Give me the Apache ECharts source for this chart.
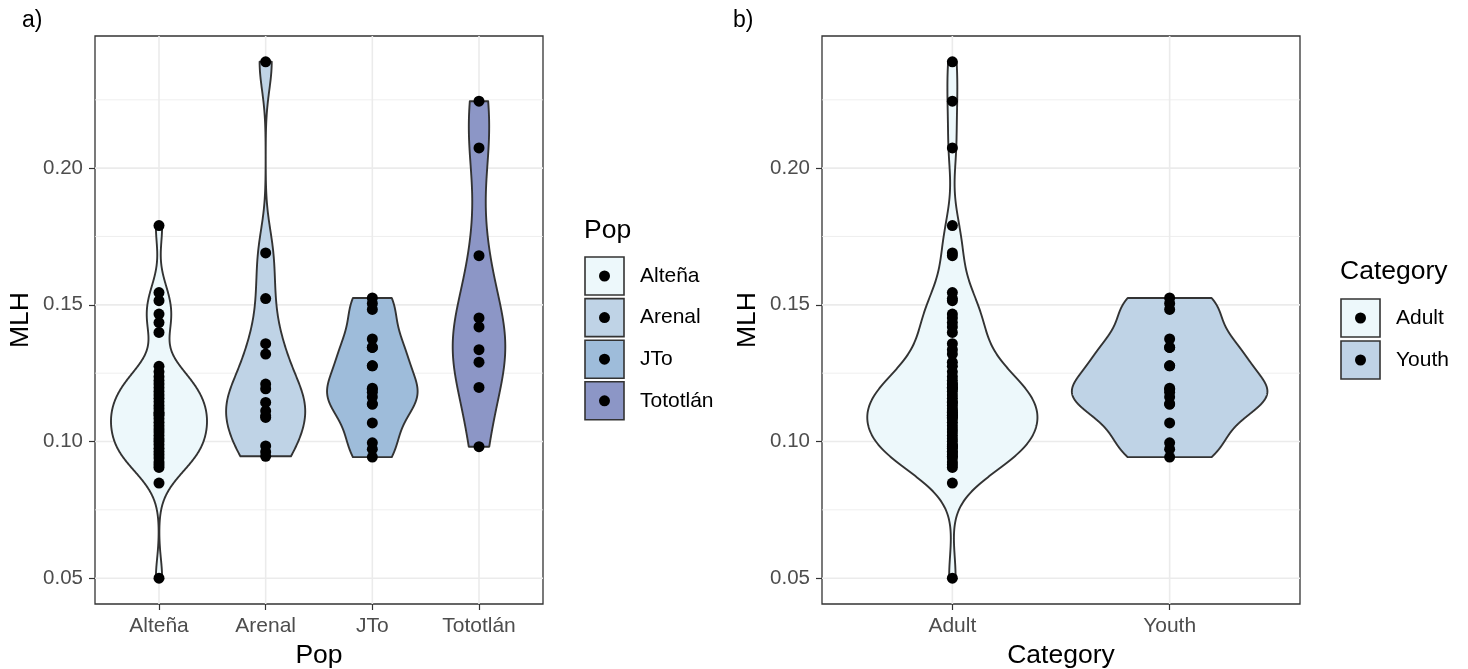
<!DOCTYPE html>
<html>
<head>
<meta charset="utf-8">
<script src="https://cdn.jsdelivr.net/npm/echarts@6/dist/echarts.min.js"></script>
<style>
html, body { margin: 0; padding: 0; background: #fff; }
#main { width: 1468px; height: 669px; }
</style>
</head>
<body>
<div id="main"></div>
<script>
// 各群体的 MLH 数值（从图上读取，重叠的点按密度估计）
var popNames = ['Alteña', 'Arenal', 'JTo', 'Tototlán'];
var altena = [0.179, 0.1545, 0.1515, 0.1466, 0.1435, 0.1399,
  0.1275, 0.1255, 0.1237, 0.1223, 0.121, 0.1197, 0.1183, 0.117, 0.1158, 0.1145,
  0.1132, 0.112, 0.1107, 0.1101, 0.1095, 0.1083, 0.107, 0.1058, 0.1046, 0.1035,
  0.1022, 0.101, 0.100, 0.0988, 0.0975, 0.0963, 0.0952, 0.094, 0.0925, 0.0915,
  0.0905, 0.0848, 0.05];
var arenal = [0.2389, 0.169, 0.1523, 0.1358, 0.132, 0.121, 0.1193, 0.1143, 0.1112, 0.1094,
  0.1088, 0.0984, 0.0962, 0.0946];
var jto = [0.1525, 0.1505, 0.1483, 0.1375, 0.1344, 0.1344, 0.1277, 0.1277, 0.1195, 0.119,
  0.118, 0.1163, 0.1137, 0.1137, 0.1068, 0.0995, 0.0972, 0.0943];
var tototlan = [0.2245, 0.2074, 0.168, 0.1452, 0.1419, 0.1336, 0.129, 0.1198, 0.0981];

// Category: Adult = Alteña + Arenal + Tototlán, Youth = JTo
var catNames = ['Adult', 'Youth'];

var yTicks = [0.05, 0.10, 0.15, 0.20];
var yMinor = [0.075, 0.125, 0.175, 0.225];

var popFill = ['#EDF8FB', '#BFD3E6', '#9EBCDA', '#8C96C6'];
var catFill = ['#EDF8FB', '#BFD3E6'];

var popGroups = [altena, arenal, jto, tototlan];
var catGroups = [altena.concat(arenal, tototlan), jto];

var FONT = '"Liberation Sans", Arial, sans-serif';

// y 轴范围：数据范围上下各扩 5%
var allVals = altena.concat(arenal, jto, tototlan);
var yLo = Math.min.apply(null, allVals), yHi = Math.max.apply(null, allVals);
var yPad = (yHi - yLo) * 0.05;
var yMin = yLo - yPad, yMax = yHi + yPad;

function quantile(sorted, p) {
  var h = (sorted.length - 1) * p, lo = Math.floor(h);
  var hi = Math.min(lo + 1, sorted.length - 1);
  return sorted[lo] + (h - lo) * (sorted[hi] - sorted[lo]);
}
// R 的 bw.nrd0
function bwNrd0(x) {
  var n = x.length, mean = 0, ss = 0;
  x.forEach(function (v) { mean += v; }); mean /= n;
  x.forEach(function (v) { ss += (v - mean) * (v - mean); });
  var sd = Math.sqrt(ss / (n - 1));
  var s = x.slice().sort(function (a, b) { return a - b; });
  var iqr = quantile(s, 0.75) - quantile(s, 0.25);
  var lo = Math.min(sd, iqr / 1.34);
  if (!lo) lo = sd || 1;
  return 0.9 * lo * Math.pow(n, -0.2);
}
function kde(x) {
  var bw = bwNrd0(x), n = 512;
  var lo = Math.min.apply(null, x), hi = Math.max.apply(null, x);
  var ys = [], ds = [];
  for (var i = 0; i < n; i++) {
    var y = lo + (hi - lo) * i / (n - 1), d = 0;
    for (var j = 0; j < x.length; j++) {
      var z = (y - x[j]) / bw;
      d += Math.exp(-0.5 * z * z);
    }
    ys.push(y);
    ds.push(d / (x.length * bw * Math.sqrt(2 * Math.PI)));
  }
  return { y: ys, d: ds };
}
// scale = "area": 全面板最大密度对应宽度 0.9
function violinProfiles(groups) {
  var profs = groups.map(kde);
  var maxD = 0;
  profs.forEach(function (p) { p.d.forEach(function (v) { if (v > maxD) maxD = v; }); });
  profs.forEach(function (p) { p.w = p.d.map(function (v) { return v / maxD * 0.45; }); });
  return profs;
}
var popProf = violinProfiles(popGroups);
var catProf = violinProfiles(catGroups);

function violinRender(profs, fills) {
  return function (params, api) {
    var g = api.value(0) - 1;
    var p = profs[g], x0 = g + 1;
    var right = [], left = [];
    for (var i = 0; i < p.y.length; i++) {
      right.push(api.coord([x0 + p.w[i], p.y[i]]));
      left.push(api.coord([x0 - p.w[i], p.y[i]]));
    }
    return {
      type: 'polygon',
      shape: { points: right.concat(left.reverse()) },
      style: { fill: fills[g], stroke: '#333333', lineWidth: 1.9, lineJoin: 'round' }
    };
  };
}
function hGridRender(params, api) {
  var cs = params.coordSys;
  var p = api.coord([api.value(0), api.value(1)]);
  return {
    type: 'line',
    shape: { x1: cs.x, y1: p[1], x2: cs.x + cs.width, y2: p[1] },
    style: { stroke: '#EBEBEB', lineWidth: api.value(2) ? 1.6 : 0.8 }
  };
}
function vGridRender(params, api) {
  var cs = params.coordSys;
  var p = api.coord([api.value(0), api.value(1)]);
  return {
    type: 'line',
    shape: { x1: p[0], y1: cs.y, x2: p[0], y2: cs.y + cs.height },
    style: { stroke: '#EBEBEB', lineWidth: 1.6 }
  };
}

function panelSeries(idx, names, groups, profs, fills) {
  var xMid = (names.length + 1) / 2, yMid = (yMin + yMax) / 2;
  var hData = yTicks.map(function (v) { return [xMid, v, 1]; })
    .concat(yMinor.map(function (v) { return [xMid, v, 0]; }));
  var vData = names.map(function (n, i) { return [i + 1, yMid]; });
  var pts = [];
  groups.forEach(function (vals, g) {
    vals.forEach(function (v) { pts.push([g + 1, v]); });
  });
  return [
    { type: 'custom', xAxisIndex: idx, yAxisIndex: idx, z: 1, silent: true,
      renderItem: hGridRender, data: hData },
    { type: 'custom', xAxisIndex: idx, yAxisIndex: idx, z: 1, silent: true,
      renderItem: vGridRender, data: vData },
    { type: 'custom', xAxisIndex: idx, yAxisIndex: idx, z: 2, silent: true,
      renderItem: violinRender(profs, fills),
      data: names.map(function (n, i) { return [i + 1, yMid]; }) },
    { type: 'scatter', xAxisIndex: idx, yAxisIndex: idx, z: 3, silent: true,
      symbolSize: 11, itemStyle: { color: '#000000', opacity: 1 }, data: pts }
  ];
}

function xAxisFor(idx, names, title) {
  var ticks = names.map(function (n, i) { return i + 1; });
  return {
    gridIndex: idx, type: 'value', min: 0.4, max: names.length + 0.6,
    axisLine: { show: false, onZero: false },
    splitLine: { show: false },
    axisTick: { show: true, customValues: ticks, length: 6, lineStyle: { color: '#333333', width: 1.2 } },
    axisLabel: { customValues: ticks, color: '#4D4D4D', fontSize: 21, margin: 12,
      formatter: function (v) { return names[Math.round(v) - 1]; } },
    name: title, nameLocation: 'middle', nameGap: 37,
    nameTextStyle: { color: '#000000', fontSize: 26.5 }
  };
}
function yAxisFor(idx) {
  return {
    gridIndex: idx, type: 'value', min: yMin, max: yMax,
    axisLine: { show: false, onZero: false },
    splitLine: { show: false },
    axisTick: { show: true, customValues: yTicks, length: 6, lineStyle: { color: '#333333', width: 1.2 } },
    axisLabel: { customValues: yTicks, color: '#4D4D4D', fontSize: 20.5, margin: 12,
      formatter: function (v) { return v.toFixed(2); } },
    name: 'MLH', nameLocation: 'middle', nameGap: 61,
    nameTextStyle: { color: '#000000', fontSize: 26.5 }
  };
}

// 图例（图形元素）
function legendGraphics(title, names, fills, left, titleY, firstY, step) {
  var els = [{
    type: 'text', left: left, top: titleY,
    style: { text: title, fill: '#000000', font: '26.5px ' + FONT }
  }];
  names.forEach(function (n, i) {
    var cy = firstY + i * step;
    els.push({ type: 'rect', shape: { x: left + 1, y: cy - 19, width: 39, height: 38 },
      style: { fill: fills[i], stroke: '#333333', lineWidth: 1.6 } });
    els.push({ type: 'circle', shape: { cx: left + 20.5, cy: cy, r: 5.5 }, style: { fill: '#000000' } });
    els.push({ type: 'text', x: left + 56, y: cy,
      style: { text: n, fill: '#000000', font: '21px ' + FONT, textVerticalAlign: 'middle' } });
  });
  return els;
}

var graphics = [
  { type: 'text', left: 22, top: 9, style: { text: 'a)', fill: '#000000', font: '23px ' + FONT } },
  { type: 'text', left: 733, top: 9, style: { text: 'b)', fill: '#000000', font: '23px ' + FONT } }
].concat(
  legendGraphics('Pop', popNames, popFill, 584, 217, 276, 41.6),
  legendGraphics('Category', catNames, catFill, 1340, 258, 318, 42)
);

var myChart = echarts.init(document.getElementById('main'));
myChart.setOption({
  animation: false,
  backgroundColor: '#ffffff',
  textStyle: { fontFamily: FONT },
  grid: [
    { left: 95, top: 36, width: 448, height: 568, outerBoundsMode: 'none', containLabel: false,
      show: true, borderColor: '#333333', borderWidth: 1.3, backgroundColor: 'transparent' },
    { left: 822, top: 36, width: 478, height: 568, outerBoundsMode: 'none', containLabel: false,
      show: true, borderColor: '#333333', borderWidth: 1.3, backgroundColor: 'transparent' }
  ],
  xAxis: [xAxisFor(0, popNames, 'Pop'), xAxisFor(1, catNames, 'Category')],
  yAxis: [yAxisFor(0), yAxisFor(1)],
  graphic: graphics,
  series: panelSeries(0, popNames, popGroups, popProf, popFill)
    .concat(panelSeries(1, catNames, catGroups, catProf, catFill))
});
</script>
</body>
</html>
